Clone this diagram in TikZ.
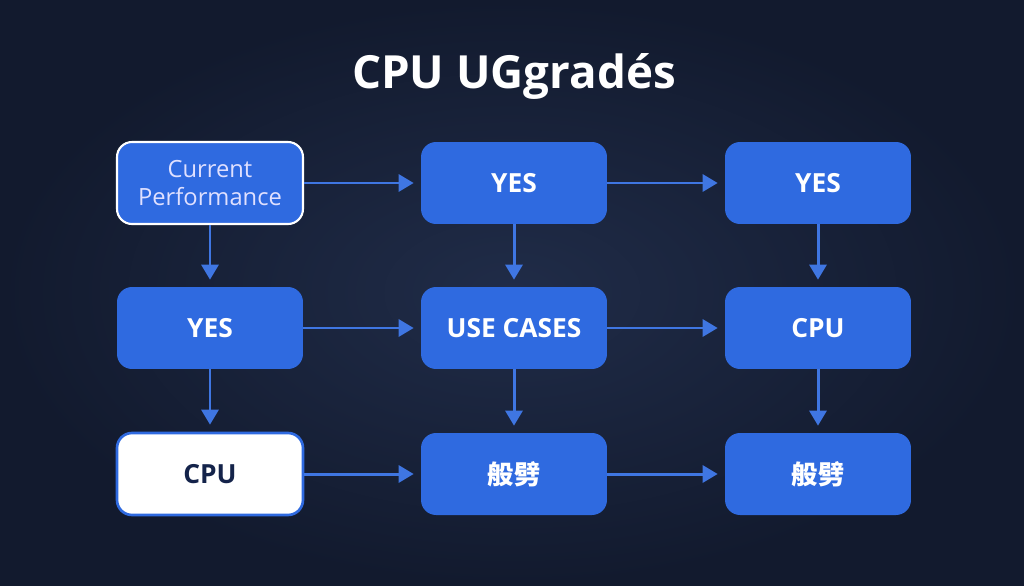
\documentclass[tikz,border=0pt]{standalone}
\usepackage{fontspec}
\setmainfont{Open Sans}
\newfontfamily\cjkfont{Noto Sans CJK SC}
\usetikzlibrary{arrows.meta,positioning,calc}

\definecolor{bgin}{HTML}{202C48}
\definecolor{bgout}{HTML}{121A2E}
\definecolor{boxblue}{HTML}{2F6AE0}
\definecolor{arrowblue}{HTML}{3F76E2}
\definecolor{darktext}{HTML}{14234A}

\tikzset{
  flowbox/.style={draw=none,fill=boxblue,rounded corners=0.3cm,
    minimum width=3.72cm,minimum height=1.64cm,align=center,
    text=white,font=\fontsize{15}{17}\selectfont\bfseries},
  startbox/.style={flowbox,draw=white,line width=1.2pt,
    text=white!88!blue,font=\fontsize{13.5}{16}\selectfont},
  whitebox/.style={flowbox,fill=white,draw=boxblue,line width=1.5pt,
    text=darktext,font=\fontsize{15}{17}\selectfont\bfseries},
  flowarrow/.style={draw=arrowblue,line width=1.7pt,
    -{Triangle[length=0.3cm,width=0.34cm]},shorten >=0.14cm},
}

\begin{document}
\begin{tikzpicture}[x=0.02cm,y=-0.02cm]
  \useasboundingbox (0,0) rectangle (1024,585);
  \shade[inner color=bgin,outer color=bgout] (0,0) rectangle (1024,585);

  \node[text=white,font=\fontsize{26}{30}\selectfont\bfseries] (title) at (514,76) {CPU UGgradés};

  % row 1
  \node[startbox] (cur) at (210,183) {Current\\Performance};
  \node[flowbox] (yesa) at (514,183) {YES};
  \node[flowbox] (yesb) at (818,183) {YES};
  % row 2
  \node[flowbox] (yesc) at (210,328) {YES};
  \node[flowbox] (use) at (514,328) {USE CASES};
  \node[flowbox] (cpua) at (818,328) {CPU};
  % row 3
  \node[whitebox] (cpub) at (210,474) {CPU};
  \node[flowbox] (gena) at (514,474) {\cjkfont\bfseries 般劈};
  \node[flowbox] (genb) at (818,474) {\cjkfont\bfseries 般劈};

  \draw[flowarrow] (cur) -- (yesa);
  \draw[flowarrow] (yesa) -- (yesb);
  \draw[flowarrow] (yesc) -- (use);
  \draw[flowarrow] (use) -- (cpua);
  \draw[flowarrow] (cpub) -- (gena);
  \draw[flowarrow] (gena) -- (genb);

  \draw[flowarrow] (cur) -- (yesc);
  \draw[flowarrow] (yesc) -- (cpub);
  \draw[flowarrow] (yesa) -- (use);
  \draw[flowarrow] (use) -- (gena);
  \draw[flowarrow] (yesb) -- (cpua);
  \draw[flowarrow] (cpua) -- (genb);
\end{tikzpicture}
\end{document}
